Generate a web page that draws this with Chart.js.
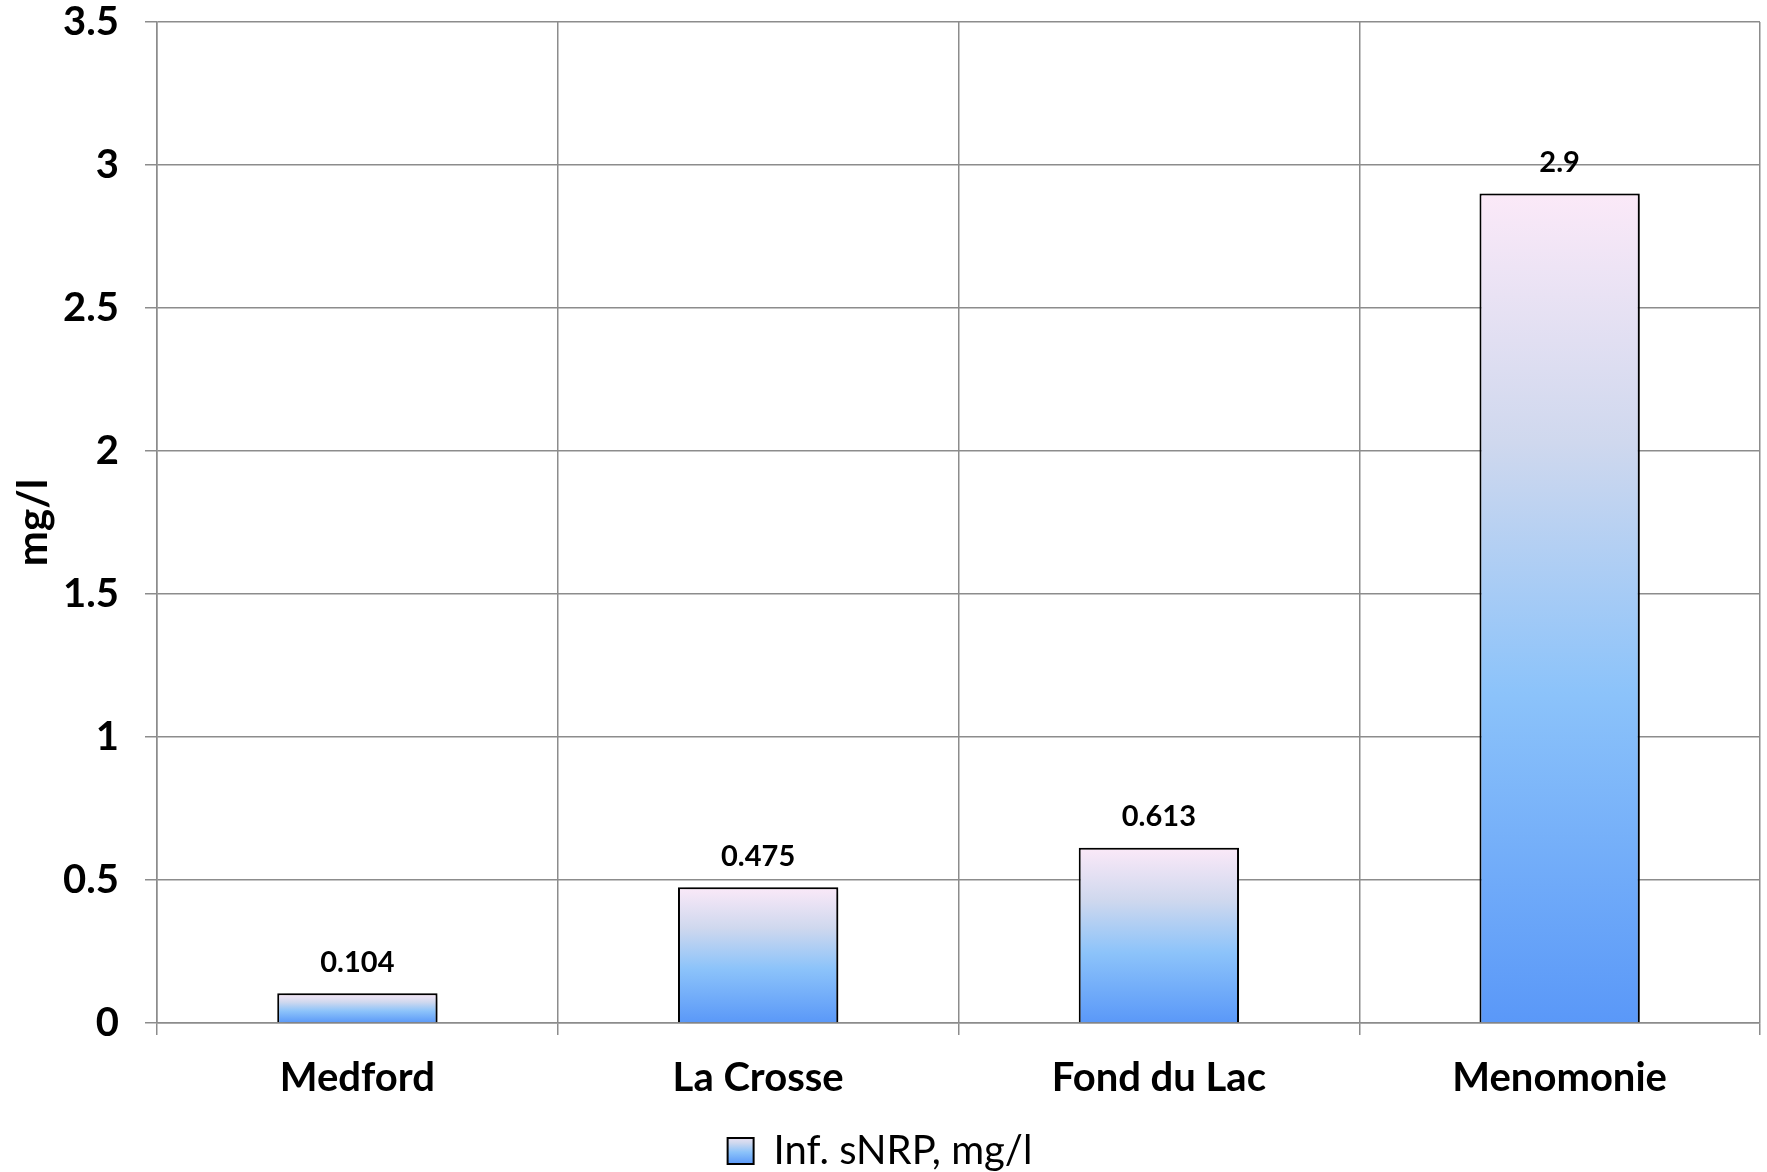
<!DOCTYPE html>
<html lang="en">
<head>
    <meta charset="UTF-8">
    <title>Inf. sNRP</title>
    <script src="https://cdn.jsdelivr.net/npm/chart.js"></script>
    <style>
        html, body {
            margin: 0;
            padding: 0;
            background: #ffffff;
        }

        #wrap {
            width: 1767px;
            height: 1172px;
        }
    </style>
</head>
<body>
    <div id="wrap">
        <canvas id="myChart" width="1767" height="1172"></canvas>
    </div>

    <script>
        const sites = ['Medford', 'La Crosse', 'Fond du Lac', 'Menomonie'];
        const snrpValues = [0.104, 0.475, 0.613, 2.9];
        const seriesName = 'Inf. sNRP, mg/l';
        const axisTitle = 'mg/l';

        const FONT = 'Lato, "Open Sans", sans-serif';
        const GRID = '#8c8c8c';

        // vertical fade used on every bar: pinkish top to blue base
        function barGradient(ctx, top, bottom) {
            const g = ctx.createLinearGradient(0, top, 0, bottom);
            g.addColorStop(0, '#fbe9f8');
            g.addColorStop(0.3, '#cfd8ee');
            g.addColorStop(0.6, '#8cc3fa');
            g.addColorStop(1, '#5a98f8');
            return g;
        }

        // soft drop shadow behind the bars
        const barShadow = {
            id: 'barShadow',
            beforeDatasetDraw(chart) {
                const ctx = chart.ctx;
                ctx.save();
                ctx.shadowColor = 'rgba(0, 0, 0, 0.4)';
                ctx.shadowBlur = 8;
                ctx.shadowOffsetX = 6;
                ctx.shadowOffsetY = 2;
            },
            afterDatasetDraw(chart) {
                chart.ctx.restore();
            }
        };

        // value written above each bar
        const valueLabels = {
            id: 'valueLabels',
            afterDatasetsDraw(chart) {
                const ctx = chart.ctx;
                const meta = chart.getDatasetMeta(0);
                ctx.save();
                ctx.font = 'bold 29px ' + FONT;
                ctx.fillStyle = '#000';
                ctx.textAlign = 'center';
                ctx.textBaseline = 'middle';
                meta.data.forEach((bar, i) => {
                    ctx.fillText(String(snrpValues[i]), bar.x, bar.y - 31);
                });
                ctx.restore();
            }
        };

        const ctx = document.getElementById('myChart').getContext('2d');

        const data = {
            labels: sites,
            datasets: [{
                label: seriesName,
                data: snrpValues,
                backgroundColor: function (context) {
                    const chart = context.chart;
                    if (!chart.chartArea || context.type !== 'data') {
                        return '#8cc3fa';
                    }
                    const y = chart.scales.y;
                    const top = y.getPixelForValue(context.raw);
                    const base = y.getPixelForValue(0);
                    return barGradient(chart.ctx, top, base);
                },
                borderColor: '#000000',
                borderWidth: 2,
                borderSkipped: 'bottom',
                barPercentage: 0.8,
                categoryPercentage: 0.5
            }]
        };

        const config = {
            type: 'bar',
            data: data,
            options: {
                responsive: false,
                animation: false,
                layout: {
                    padding: { left: 0, right: 7, top: 22, bottom: -9 }
                },
                plugins: {
                    tooltip: { enabled: false },
                    legend: {
                        position: 'bottom',
                        labels: {
                            color: '#000',
                            font: { family: FONT, size: 40 },
                            boxWidth: 26,
                            boxHeight: 26,
                            padding: 2,
                            generateLabels(chart) {
                                return [{
                                    text: seriesName,
                                    fillStyle: barGradient(chart.ctx, 1134, 1164),
                                    strokeStyle: '#000',
                                    lineWidth: 2,
                                    datasetIndex: 0
                                }];
                            }
                        }
                    }
                },
                scales: {
                    x: {
                        grid: {
                            color: GRID,
                            lineWidth: 1.5,
                            tickLength: 12,
                            offset: true
                        },
                        border: { color: GRID, width: 1.5 },
                        ticks: {
                            color: '#000',
                            padding: 19,
                            font: { family: FONT, size: 40, weight: 'bold' }
                        },
                        afterFit(scale) {
                            scale.height = 106;
                        }
                    },
                    y: {
                        min: 0,
                        max: 3.5,
                        ticks: {
                            stepSize: 0.5,
                            color: '#000',
                            padding: 26,
                            font: { family: FONT, size: 40, weight: 'bold' },
                            callback: value => String(value)
                        },
                        grid: {
                            color: GRID,
                            lineWidth: 1.5,
                            tickLength: 12
                        },
                        border: { color: GRID, width: 1.5 },
                        title: {
                            display: true,
                            text: axisTitle,
                            color: '#000',
                            padding: { top: 8, bottom: 0 },
                            font: { family: FONT, size: 42, weight: 'bold' }
                        },
                        afterFit(scale) {
                            scale.width = 157;
                            scale.paddingTop = 0;
                        }
                    }
                }
            },
            plugins: [barShadow, valueLabels]
        };

        const myChart = new Chart(ctx, config);
    </script>
</body>
</html>
